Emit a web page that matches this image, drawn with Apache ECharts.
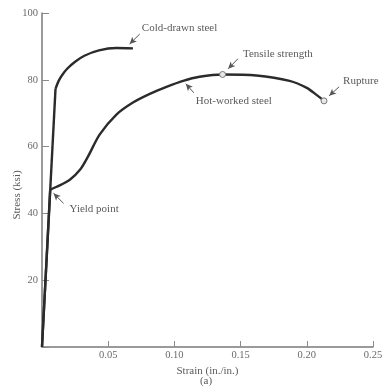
<!DOCTYPE html>
<html>
<head>
<meta charset="utf-8">
<script src="https://cdn.jsdelivr.net/npm/echarts@6/dist/echarts.min.js"></script>
<style>
  html, body { margin: 0; padding: 0; background: #fff; }
  #chart { width: 386px; height: 392px; }
</style>
</head>
<body>
<div id="chart"></div>
<script>
// strain (in./in.) vs stress (ksi)
const coldElastic = [[0, 0], [0.0102, 77.3]]
const coldPlastic = [[0.0102, 77.3], [0.0125, 79.6], [0.015, 81.3], [0.019, 83.3], [0.025, 85.4],
  [0.032, 87.2], [0.043, 88.8], [0.056, 89.5], [0.0687, 89.4]]
const hotElastic = [[0, 0], [0.0062, 47.1]]
const hotPlastic = [[0.0062, 47.1], [0.0107, 47.9], [0.0208, 50.0], [0.029, 53.2], [0.035, 57.2],
  [0.0435, 63.6], [0.0562, 69.6], [0.0687, 73.2], [0.0814, 75.8], [0.094, 77.9], [0.1066, 79.7],
  [0.119, 80.9], [0.1364, 81.6], [0.162, 81.3], [0.187, 79.7], [0.2, 77.6], [0.2076, 75.4], [0.213, 73.7]]

// special points on hot-worked curve
const tensilePoint = [0.1364, 81.6]
const rupturePoint = [0.213, 73.7]

// annotation text: [label, strain, stress]
const notes = [
  ['Cold-drawn steel', 0.0754, 95.5],
  ['Tensile strength', 0.1518, 87.8],
  ['Rupture', 0.2274, 79.7],
  ['Hot-worked steel', 0.1162, 73.7],
  ['Yield point', 0.0208, 41.2]
]
// leader arrows: [tail, head]
const arrows = [
  [[0.0738, 93.7], [0.0662, 90.7]],
  [[0.148, 86.3], [0.1406, 83.3]],
  [[0.2244, 77.9], [0.2169, 75.2]],
  [[0.1147, 76.1], [0.1086, 78.8]],
  [[0.0163, 43.0], [0.0087, 46.0]]
]

const xMin = 0, xMax = 0.25, xStep = 0.05
const yMin = 0, yMax = 100, yStep = 20

const font = 'Liberation Serif'
const textGray = '#5a5a5a'
const curveColor = '#2b2b2b'

const chart = echarts.init(document.getElementById('chart'))

const curve = (name, data, smooth) => ({
  name: name,
  type: 'line',
  data: data,
  smooth: smooth,
  symbol: 'none',
  lineStyle: { color: curveColor, width: 2.4 },
  animation: false,
  z: 3
})

const hotSeries = curve('Hot-worked steel', hotPlastic, 0.3)
hotSeries.markPoint = {
  silent: true,
  animation: false,
  data: [
    ...[tensilePoint, rupturePoint].map(p => ({
      coord: p,
      symbol: 'circle',
      symbolSize: 6,
      itemStyle: { color: '#e8e8e8', borderColor: '#777', borderWidth: 1 },
      label: { show: false }
    })),
    ...notes.map(n => ({
      coord: [n[1], n[2]],
      symbol: 'rect',
      symbolSize: 0,
      label: {
        show: true,
        position: 'right',
        distance: 0,
        formatter: n[0],
        fontFamily: font,
        fontSize: 11,
        color: textGray
      }
    }))
  ]
}
hotSeries.markLine = {
  silent: true,
  animation: false,
  symbol: ['none', 'arrow'],
  symbolSize: [5, 7],
  label: { show: false },
  lineStyle: { color: '#555', width: 1, type: 'solid' },
  data: arrows.map(a => [{ coord: a[0] }, { coord: a[1] }])
}

chart.setOption({
  backgroundColor: '#fff',
  animation: false,
  grid: { left: 42, right: 13, top: 13, bottom: 45, containLabel: false },
  xAxis: {
    type: 'value',
    min: xMin,
    max: xMax,
    interval: xStep,
    name: 'Strain (in./in.)',
    nameLocation: 'middle',
    nameGap: 14,
    nameTextStyle: { fontFamily: font, fontSize: 11, color: textGray },
    axisLine: { show: true, lineStyle: { color: '#7a7a7a', width: 1.5 } },
    axisTick: { show: true, inside: true, length: 6, lineStyle: { color: '#8a8a8a' } },
    axisLabel: {
      margin: 3,
      fontFamily: font,
      fontSize: 10.5,
      color: '#6a6a6a',
      formatter: v => (v === 0 ? '' : v.toFixed(2))
    },
    splitLine: { show: false }
  },
  yAxis: {
    type: 'value',
    min: yMin,
    max: yMax,
    interval: yStep,
    axisLine: { show: true, lineStyle: { color: '#7a7a7a', width: 1.5 } },
    axisTick: { show: true, inside: true, length: 7, lineStyle: { color: '#8a8a8a' } },
    axisLabel: {
      margin: 4,
      fontFamily: font,
      fontSize: 10.5,
      color: '#6a6a6a',
      formatter: v => (v === 0 ? '' : String(v))
    },
    splitLine: { show: false }
  },
  graphic: [
    {
      type: 'text',
      x: 17,
      y: 195,
      rotation: Math.PI / 2,
      style: {
        text: 'Stress (ksi)',
        font: '11px "Liberation Serif"',
        fill: textGray,
        textAlign: 'center',
        textVerticalAlign: 'middle'
      }
    },
    {
      type: 'text',
      x: 206,
      y: 381,
      style: {
        text: '(a)',
        font: '11px "Liberation Serif"',
        fill: textGray,
        textAlign: 'center',
        textVerticalAlign: 'middle'
      }
    }
  ],
  series: [
    curve('Cold-drawn elastic', coldElastic, false),
    curve('Cold-drawn steel', coldPlastic, 0.3),
    curve('Hot-worked elastic', hotElastic, false),
    hotSeries
  ]
})
</script>
</body>
</html>
